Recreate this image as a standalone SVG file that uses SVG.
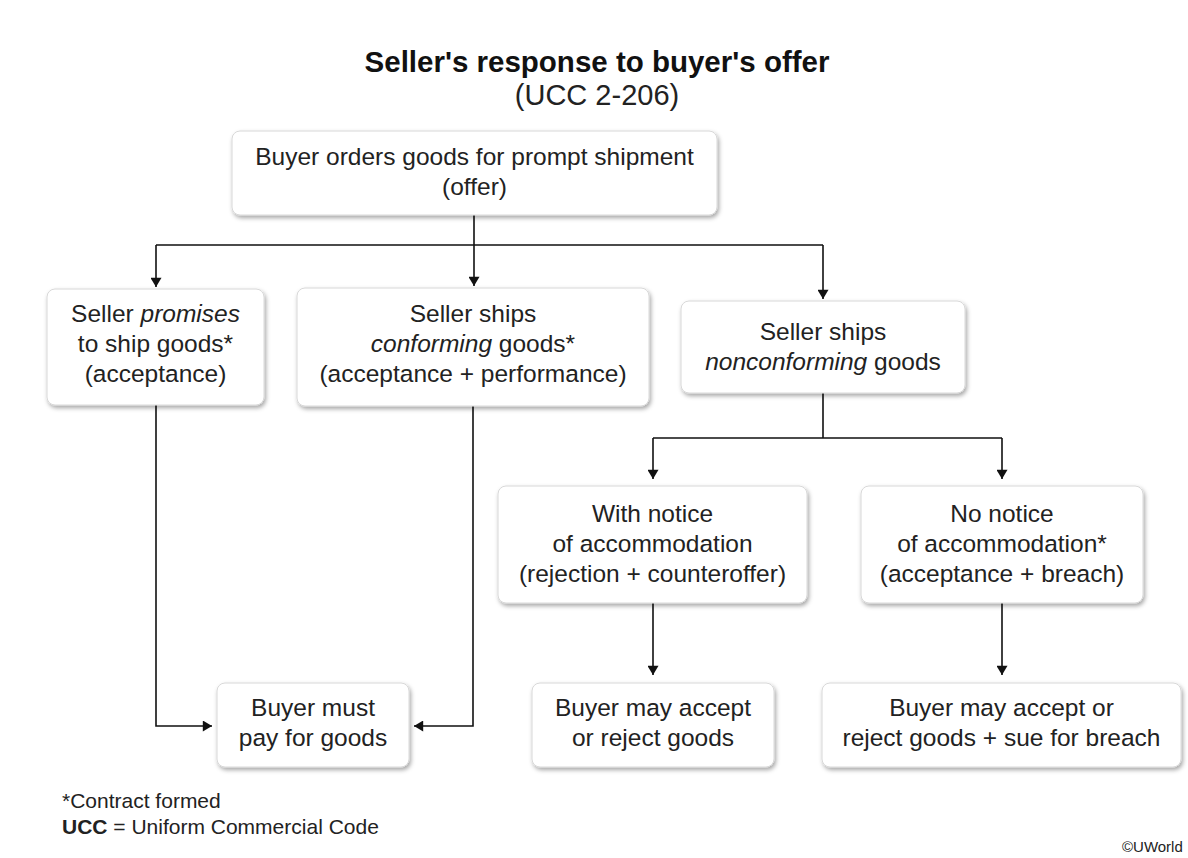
<svg xmlns="http://www.w3.org/2000/svg" width="1188" height="858" viewBox="0 0 1188 858">
<defs>
<filter id="sh" x="-10%" y="-10%" width="125%" height="130%">
<feDropShadow dx="1.5" dy="2.5" stdDeviation="2" flood-color="#000" flood-opacity="0.35"/>
</filter>
<marker id="ah" viewBox="0 0 10 12" refX="10" refY="6" markerWidth="12" markerHeight="11" markerUnits="userSpaceOnUse" orient="auto">
<path d="M0,0 L10,6 L0,12 z" fill="#111"/>
</marker>
</defs>
<style>
.box{fill:#fff;stroke:#d8d8d8;stroke-width:1;filter:url(#sh)}
.t{font-family:"Liberation Sans",Arial,sans-serif;font-size:24.5px;fill:#222;text-anchor:middle}
.c{fill:none;stroke:#111;stroke-width:1.6;marker-end:url(#ah)}
.l{fill:none;stroke:#111;stroke-width:1.6}
.fn{font-family:"Liberation Sans",Arial,sans-serif;font-size:21px;fill:#222}
</style>
<rect width="1188" height="858" fill="#fff"/>
<g id="title">
<text x="597" y="72" font-family="Liberation Sans, Arial, sans-serif" font-size="29.5" font-weight="bold" fill="#111" text-anchor="middle">Seller's response to buyer's offer</text>
<text x="597" y="105" font-family="Liberation Sans, Arial, sans-serif" font-size="29" fill="#222" text-anchor="middle">(UCC 2-206)</text>
</g>
<g id="connectors">
<path class="l" d="M474,215 V245 M156,245 H823"/>
<path class="c" d="M156,245 V287"/>
<path class="c" d="M474,245 V286"/>
<path class="c" d="M823,245 V299"/>
<path class="l" d="M823,393 V438 M653,438 H1002"/>
<path class="c" d="M653,438 V479"/>
<path class="c" d="M1002,438 V479"/>
<path class="c" d="M653,603 V675"/>
<path class="c" d="M1002,603 V675"/>
<path class="c" d="M156,405 V726 H212"/>
<path class="c" d="M473,406 V726 H414"/>
</g>
<g id="n_offer">
<rect class="box" x="232" y="131" width="485" height="84" rx="8"/>
<text class="t" x="474.5" y="165">Buyer orders goods for prompt shipment</text>
<text class="t" x="474.5" y="195">(offer)</text>
</g>
<g id="n_promise">
<rect class="box" x="47" y="289" width="217" height="116" rx="8"/>
<text class="t" x="155.5" y="322">Seller <tspan font-style="italic">promises</tspan></text>
<text class="t" x="155.5" y="352">to ship goods*</text>
<text class="t" x="155.5" y="382">(acceptance)</text>
</g>
<g id="n_conforming">
<rect class="box" x="297" y="288" width="352" height="118" rx="8"/>
<text class="t" x="473" y="322">Seller ships</text>
<text class="t" x="473" y="352"><tspan font-style="italic">conforming</tspan> goods*</text>
<text class="t" x="473" y="382">(acceptance + performance)</text>
</g>
<g id="n_nonconforming">
<rect class="box" x="681" y="301" width="284" height="92" rx="8"/>
<text class="t" x="823" y="340">Seller ships</text>
<text class="t" x="823" y="370"><tspan font-style="italic">nonconforming</tspan> goods</text>
</g>
<g id="n_withnotice">
<rect class="box" x="498" y="486" width="309" height="117" rx="8"/>
<text class="t" x="652.5" y="522">With notice</text>
<text class="t" x="652.5" y="552">of accommodation</text>
<text class="t" x="652.5" y="582">(rejection + counteroffer)</text>
</g>
<g id="n_nonotice">
<rect class="box" x="861" y="486" width="282" height="117" rx="8"/>
<text class="t" x="1002" y="522">No notice</text>
<text class="t" x="1002" y="552">of accommodation*</text>
<text class="t" x="1002" y="582">(acceptance + breach)</text>
</g>
<g id="n_mustpay">
<rect class="box" x="217" y="683" width="192" height="84" rx="8"/>
<text class="t" x="313" y="716">Buyer must</text>
<text class="t" x="313" y="746">pay for goods</text>
</g>
<g id="n_mayaccept">
<rect class="box" x="532" y="683" width="242" height="84" rx="8"/>
<text class="t" x="653" y="716">Buyer may accept</text>
<text class="t" x="653" y="746">or reject goods</text>
</g>
<g id="n_maysue">
<rect class="box" x="822" y="683" width="359" height="84" rx="8"/>
<text class="t" x="1001.5" y="716">Buyer may accept or</text>
<text class="t" x="1001.5" y="746">reject goods + sue for breach</text>
</g>
<g id="footnote">
<text class="fn" x="62" y="808">*Contract formed</text>
<text class="fn" x="62" y="834"><tspan font-weight="bold">UCC</tspan> = Uniform Commercial Code</text>
<text x="1122" y="852" font-family="Liberation Sans, Arial, sans-serif" font-size="15" fill="#222">©UWorld</text>
</g>
</svg>
